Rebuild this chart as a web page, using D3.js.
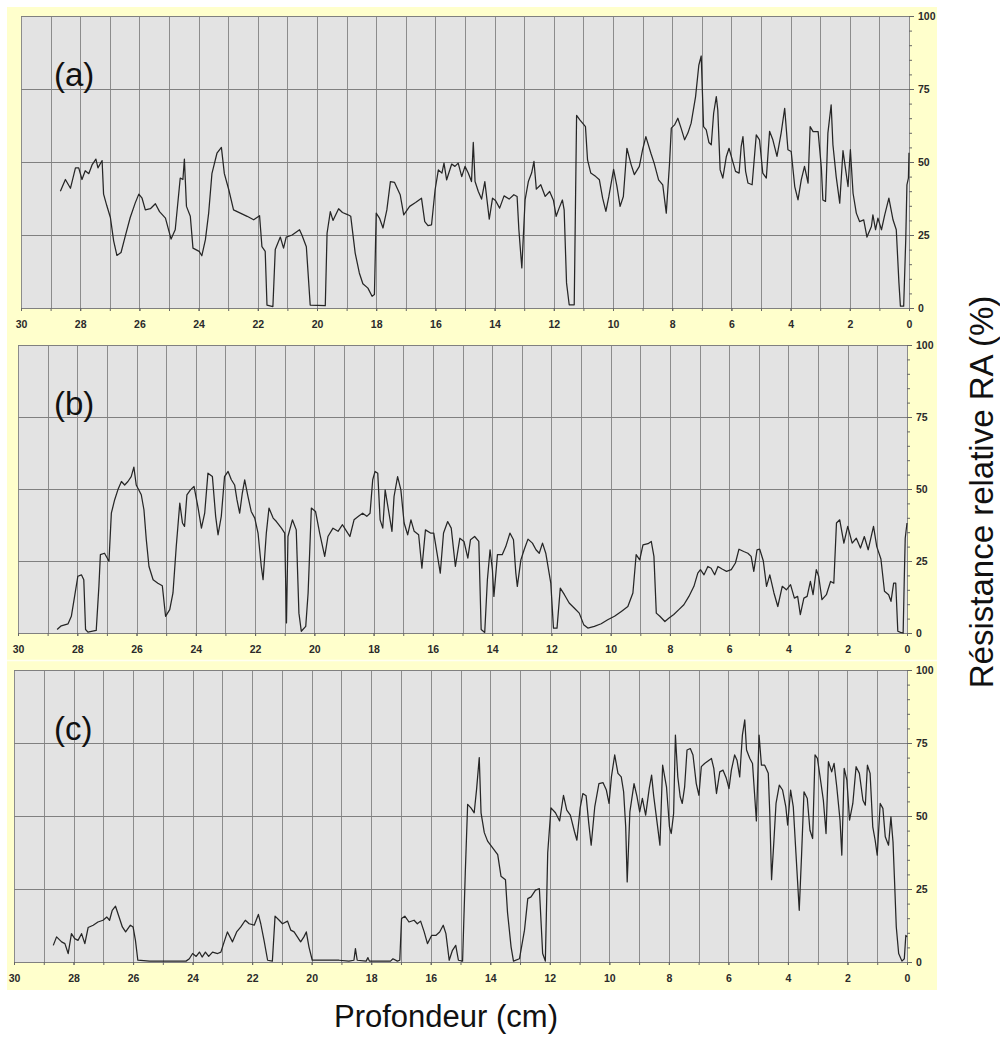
<!DOCTYPE html>
<html>
<head>
<meta charset="utf-8">
<script src="https://cdn.jsdelivr.net/npm/d3@7"></script>
<style>
  body { margin: 0; background: #fff; }
  .tick text { font-family: "Liberation Sans", Arial, sans-serif; font-weight: bold; font-size: 10.5px; fill: #2a2a2a; }
</style>
</head>
<body>
<svg id="viz" width="1000" height="1037"></svg>
<script>
// depth (cm) , relative resistance (%)
const traceA = [
  [28.67,40],[28.5,44],[28.33,41],[28.16,48],[28.05,48],[27.94,44],[27.83,47],[27.71,46],[27.6,49],[27.47,51],[27.4,48],[27.26,50.5],[27.21,39],[27.1,35],[26.98,31],[26.87,23],[26.76,18],[26.62,19],[26.48,24.5],[26.31,31],[26.14,36],[26.02,39],[25.91,37.6],[25.8,33.6],[25.63,34],[25.46,35.7],[25.32,33],[25.12,30.8],[24.93,23.6],[24.79,26.8],[24.62,44.5],[24.53,44],[24.48,51],[24.41,34.8],[24.28,31.4],[24.19,20.5],[23.98,19.4],[23.89,17.9],[23.77,23.4],[23.66,32.5],[23.55,46],[23.38,53],[23.23,55],[23.13,46],[22.98,40.5],[22.82,33.6],[22.59,32.5],[22.36,31.4],[22.14,30.2],[21.94,31.6],[21.86,21],[21.75,19.4],[21.69,1],[21.49,0.5],[21.41,20],[21.24,24.3],[21.13,20.5],[21.04,24.3],[20.84,25],[20.59,26.8],[20.51,25],[20.36,21],[20.23,1],[19.72,0.8],[19.66,25.6],[19.55,33],[19.46,30],[19.27,34],
  [19.14,32.7],[18.97,32],[18.86,31.4],[18.71,18.8],[18.57,12],[18.45,8.3],[18.28,6.8],[18.14,4],[18.06,4.6],[18,32.5],[17.89,30.8],[17.77,27.4],[17.64,33.6],[17.52,43.3],[17.38,43],[17.19,38.8],[17.07,31.9],[16.87,34.8],[16.67,36.1],[16.47,37.6],[16.36,29.6],[16.25,28.2],[16.13,28.5],[16.01,40.5],[15.9,47.3],[15.78,46.2],[15.71,49.6],[15.62,43.9],[15.45,49.3],[15.34,48.5],[15.23,49.6],[15.11,45],[15,48.5],[14.89,46.2],[14.78,43.3],[14.72,56.7],[14.66,43.3],[14.55,39.9],[14.44,37.3],[14.33,43.3],[14.18,30.4],[14.07,37.6],[13.97,36.8],[13.83,34.2],[13.68,38.4],[13.51,37.3],[13.35,38.8],[13.24,38.2],[13.18,26.8],[13.08,13.7],[12.97,37],[12.86,43.3],[12.75,46.2],[12.67,50.2],[12.59,40.7],[12.44,42.2],[12.29,38.2],[12.14,39.9],[12.01,36.8],[11.92,31.4],[11.82,34.2],[11.71,37],[11.65,33.6],[11.57,8.6],[11.48,1.1],[11.31,1.1],[11.23,66],[11.12,64.4],[10.93,62.1],[10.86,50.7],[10.75,46.2],[10.58,45],[10.46,43.9],[10.35,37.6],[10.24,33.1],[10.14,38.2],[9.98,47.5],[9.87,41.8],[9.76,34.8],[9.65,38.2],[9.53,54.7],[9.39,49.2],[9.28,45.7],[9.11,48.5],[9,54.2],[8.89,58.7],[8.72,53],[8.61,49.6],[8.46,43.9],[8.32,42.2],[8.2,32.5],
  [8.09,49.6],[8.03,61.6],[7.92,62.7],[7.81,65],[7.7,61.6],[7.58,57.6],[7.47,59.9],[7.36,63.3],[7.21,72.4],[7.1,83.2],[7.02,86.3],[6.94,62.1],[6.85,61],[6.76,56.7],[6.68,55.9],[6.6,66.7],[6.51,72.4],[6.46,67.8],[6.38,47.3],[6.29,44.5],[6.17,51.9],[6.08,54.7],[5.97,50.7],[5.86,46.8],[5.74,46.2],[5.67,55.3],[5.61,58.7],[5.52,46.8],[5.44,42.8],[5.3,42.2],[5.16,59.3],[5.05,57.6],[4.94,46.2],[4.82,44.5],[4.71,60.5],[4.6,57.6],[4.46,51.9],[4.32,59.9],[4.2,68.4],[4.09,54.2],[3.98,53.6],[3.86,41.6],[3.75,37],[3.64,43.9],[3.53,48.5],[3.41,42.8],[3.34,62.1],[3.24,60.4],[3.07,60.4],[2.96,47.9],[2.91,37],[2.82,36.5],[2.74,59.9],[2.63,69.6],[2.57,55.9],[2.46,45],[2.34,35.9],[2.23,53.9],[2.14,47.3],[2.06,41.6],[1.98,54.2],[1.89,39.3],[1.78,32.5],[1.67,29.6],[1.53,30.2],[1.42,24.3],[1.27,27.9],[1.22,31.9],[1.13,26.8],[1.05,30.8],[0.93,26.8],[0.82,31.9],[0.68,37.6],[0.54,30.2],[0.43,26.8],[0.34,8.6],[0.29,0.6],[0.18,0.6],[0.11,23.4],[0.07,42.2],[0.02,44.5],[0,53.2]
];

const traceB = [
  [28.68,1.2],[28.54,2.5],[28.31,3.2],[28.2,5.8],[28.09,12.7],[27.98,19.7],[27.86,20.2],[27.78,18.5],[27.72,1.2],[27.64,0.3],[27.36,0.9],[27.27,16.2],[27.22,27.2],[27.08,27.7],[26.93,24.9],[26.85,41.6],[26.74,46.2],[26.63,49.7],[26.51,52.6],[26.4,51.4],[26.29,52.6],[26.18,54.3],[26.09,57.6],[26.01,51.4],[25.84,48],[25.75,42.8],[25.67,32.4],[25.58,23.1],[25.44,18.5],[25.28,17.3],[25.13,16.4],[25.02,5.8],[24.88,8.1],[24.77,13.9],[24.66,30],[24.54,45.1],[24.45,38.2],[24.38,37],[24.3,48],[24.18,49.7],[24.06,50.9],[23.93,43.9],[23.81,36.4],[23.7,41.6],[23.59,55.5],[23.44,54.3],[23.33,40.5],[23.25,34.1],[23.14,40.5],[23.03,54.3],[22.91,56.1],[22.8,53.2],[22.69,51.4],[22.61,46.2],[22.52,41.6],[22.43,48.6],[22.35,53.2],[22.24,47.4],[22.13,42.2],[22.01,39.9],[21.9,34.7],[21.79,23.1],[21.73,18.5],[21.62,34.7],[21.53,43.4],[21.39,39.9],[21.28,38.7],[21.11,36.4],[21,34.7],[20.94,3.5],[20.89,33.5],[20.74,39.3],[20.61,35.8],[20.52,6.9],[20.44,0.6],[20.29,2.3],[20.21,13.9],[20.1,43.4],[19.96,42.2],[19.82,34.7],[19.65,26.6],[19.54,33.5],[19.37,36.4],[19.2,35.3],
  [19.05,37.6],[18.91,35.3],[18.8,33.5],[18.66,39.3],[18.51,40.5],[18.37,41.6],[18.23,40.5],[18.12,41.6],[18.03,53.2],[17.95,56.1],[17.86,55.5],[17.78,39.3],[17.69,36.4],[17.61,49.7],[17.5,42.8],[17.38,35.3],[17.31,47.4],[17.19,54.3],[17.08,49.7],[16.97,38.2],[16.85,34.1],[16.74,39.3],[16.63,35.3],[16.48,34.1],[16.37,22.5],[16.25,35.8],[16.08,34.7],[15.97,34.7],[15.86,27.7],[15.75,20.8],[15.64,34.7],[15.5,38.7],[15.38,36.4],[15.24,23.1],[15.09,32.9],[14.95,31.8],[14.82,26],[14.73,32.4],[14.59,33.5],[14.45,31.8],[14.37,1.2],[14.25,0.2],[14.16,18.5],[14.07,28.9],[13.99,21.9],[13.94,12.7],[13.82,27.2],[13.66,27.2],[13.54,30],[13.4,34.7],[13.28,32.4],[13.2,20.8],[13.15,16.2],[13.03,25.4],[12.92,28.9],[12.79,32.6],[12.64,31.2],[12.52,28.9],[12.41,27.7],[12.3,31.2],[12.19,27.7],[12.02,17.3],[11.93,1.7],[11.81,1.7],[11.7,15.6],[11.56,13.3],[11.4,10.4],[11.23,8.7],[11.06,6.9],[10.91,2.9],[10.77,1.7],[10.55,2.3],[10.32,3.2],[10.1,4.6],[9.87,5.8],[9.64,7.5],[9.42,9.2],[9.25,13.9],[9.14,27.2],[9.02,25.4],[8.91,30.6],[8.74,31],[8.63,31.8],[8.54,26.6],[8.46,6.9],[8.34,5.8],[8.17,4],
  [8.03,5.2],[7.87,6.4],[7.7,8.1],[7.53,9.8],[7.36,12.7],[7.19,16.2],[7.06,20.8],[6.97,22],[6.85,20.2],[6.72,23.1],[6.61,22.5],[6.49,20.2],[6.38,23.1],[6.24,22.2],[6.09,21.4],[5.93,22],[5.79,24.3],[5.67,29.1],[5.51,28.3],[5.37,27.7],[5.26,26.6],[5.17,21.4],[5.06,28.9],[4.97,29.1],[4.85,25.1],[4.74,16.2],[4.63,20.2],[4.49,13.9],[4.36,9.2],[4.21,16.2],[4.07,15],[3.93,16.8],[3.8,12.1],[3.69,12.7],[3.6,6.4],[3.48,12.1],[3.37,12.7],[3.26,17.9],[3.17,13.3],[3.06,22],[2.98,19.7],[2.87,11.6],[2.72,13.3],[2.58,17.9],[2.47,17.3],[2.38,38.2],[2.27,39.3],[2.13,31.2],[2,37],[1.85,31.2],[1.71,32.9],[1.57,29.5],[1.44,33.5],[1.31,28.9],[1.13,37],[1.02,30],[0.88,25.7],[0.76,14.5],[0.62,13.3],[0.54,11],[0.45,17.3],[0.38,17.3],[0.31,0.6],[0.22,0.2],[0.13,0],[0.09,19.7],[0.06,32.9],[0,38.2]
];

const traceC = [
  [28.68,5.7],[28.57,8.6],[28.4,6.9],[28.29,6.3],[28.18,2.9],[28.07,9.7],[27.96,8],[27.85,7.4],[27.73,9.7],[27.62,6.3],[27.51,11.8],[27.34,12.6],[27.18,13.7],[27.01,14.3],[26.88,15.4],[26.79,14.3],[26.7,17.7],[26.59,19.1],[26.47,15.4],[26.36,12],[26.25,10.3],[26.09,12.6],[26,12],[25.92,7.4],[25.84,0.6],[25.45,0.3],[24.89,0.3],[24.22,0.3],[24.11,1.1],[24,2.9],[23.88,1.9],[23.77,3.4],[23.68,1.7],[23.57,3.4],[23.46,1.9],[23.33,3.4],[23.16,2.9],[23.05,3.4],[22.94,6.9],[22.83,10.3],[22.66,6.9],[22.52,10.3],[22.38,12],[22.23,14.3],[22.1,13.1],[21.93,12.6],[21.79,16.3],[21.71,13.1],[21.6,7.4],[21.48,0.6],[21.32,0.3],[21.23,15.7],[21.09,14.3],[20.98,13.1],[20.81,14],[20.7,10.9],[20.59,10.3],[20.48,8.6],[20.37,6.9],[20.26,8.6],[20.18,10.3],[20.09,5.1],[19.98,0.6],[19.08,0.6],
  [18.75,0.3],[18.58,0.6],[18.53,4.6],[18.47,0.6],[18.17,0.3],[18.11,1.5],[18.06,0.3],[17.35,0.3],[17.27,1.1],[17.12,0.3],[17.04,0.6],[16.98,14.9],[16.87,15.7],[16.73,13.7],[16.56,14.3],[16.45,13.1],[16.34,14],[16.22,10.3],[16.11,6.3],[15.97,9.1],[15.83,9.1],[15.7,10.3],[15.58,12.6],[15.49,9.7],[15.38,0.6],[15.27,4],[15.16,5.7],[15.07,0.6],[14.93,0.3],[14.84,30.3],[14.76,54],[14.65,52.8],[14.54,51.1],[14.46,59.1],[14.37,70],[14.31,51.1],[14.2,44.3],[14.09,41.4],[13.92,39.1],[13.75,36.8],[13.64,29.4],[13.49,28.2],[13.42,16.9],[13.3,5.1],[13.22,0.3],[13.02,1.1],[12.85,10.9],[12.74,21.7],[12.63,22.3],[12.48,24.6],[12.35,25.1],[12.24,2.9],[12.15,0.3],[12.07,37.4],[11.96,52.8],[11.81,51.1],[11.67,48.3],[11.54,57.1],[11.43,52],[11.31,50.3],[11.17,44.6],[11.09,41.7],[10.98,52.8],[10.89,57.7],[10.78,56.9],[10.69,47.4],[10.61,40],[10.49,53.1],[10.35,61.1],[10.21,61.4],[10.1,58.9],[10.01,54.3],[9.93,63.4],[9.82,70.9],[9.71,64.6],[9.6,63.4],[9.52,58.3],[9.45,46.3],[9.4,27.4],[9.31,51.4],[9.17,61.1],[9.07,56.6],[8.98,51.4],[8.89,56],[8.78,50.3],[8.66,59.4],[8.58,64],[8.51,56.9],[8.42,49.7],[8.3,40],[8.21,67.4],[8.08,60],
  [7.98,46.3],[7.92,44],[7.84,50.9],[7.78,77.7],[7.7,63.4],[7.62,56.6],[7.55,54.3],[7.47,60],[7.39,72.6],[7.28,73.1],[7.19,70.9],[7.08,61.1],[6.99,57.1],[6.91,66.9],[6.8,68],[6.65,69.1],[6.57,69.7],[6.49,66.3],[6.4,57.7],[6.29,65.1],[6.18,65.7],[6.07,62.9],[5.98,59.4],[5.9,65.7],[5.79,70.9],[5.71,69.1],[5.62,63.4],[5.53,77.7],[5.45,82.9],[5.39,72.6],[5.28,69.7],[5.19,68],[5.13,58.9],[5.06,48.3],[4.97,77.7],[4.89,67.4],[4.78,67.4],[4.66,64.6],[4.61,50.9],[4.55,28.2],[4.47,41.7],[4.4,54.3],[4.29,60.6],[4.18,58.9],[4.07,53.1],[4.01,46.9],[3.91,58.9],[3.82,53.1],[3.73,37.1],[3.62,17.7],[3.54,37.1],[3.46,58.3],[3.35,56],[3.26,45.1],[3.17,42.3],[3.09,70.9],[3.01,69.7],[2.92,63.4],[2.81,55.4],[2.72,44],[2.64,68.6],[2.53,65.1],[2.45,68],[2.36,60],[2.25,48.6],[2.19,36.6],[2.11,66.3],[2.02,62.3],[1.93,48.6],[1.82,54.3],[1.71,66.9],[1.6,64.6],[1.48,55.4],[1.4,53.7],[1.33,67.4],[1.24,64.6],[1.15,46.3],[1.07,41.7],[1,36.6],[0.9,54.3],[0.81,52.6],[0.73,42.9],[0.62,40],[0.54,49.7],[0.47,41.1],[0.42,28.2],[0.36,12],[0.28,2.9],[0.17,0.3],[0.09,1.1],[0.04,9.1],[0,8.6]
];

const panelLabels = ["(a)", "(b)", "(c)"];
const depthTicks = [30, 28, 26, 24, 22, 20, 18, 16, 14, 12, 10, 8, 6, 4, 2, 0];
const depthGrid = d3.range(0, 31, 1);
const resTicks = [0, 25, 50, 75, 100];
const resMinor = d3.range(0, 101, 5);
const xTitle = "Profondeur (cm)";
const yTitle = "Résistance relative RA (%)";

window.onload = () => {
  const svg = d3.select("#viz");

  // pale yellow sheet behind the three scans
  svg.append("rect").attr("x", 7).attr("y", 7).attr("width", 930).attr("height", 983).attr("fill", "#ffffcc");
  svg.append("line").attr("x1", 7).attr("x2", 937).attr("y1", 660.5).attr("y2", 660.5)
    .attr("stroke", "#fffff2").attr("stroke-width", 1.5);

  // plot boxes (pixels)
  const panels = [
    { data: traceA, label: panelLabels[0], left: 21, right: 909, top: 16, bottom: 308 },
    { data: traceB, label: panelLabels[1], left: 18, right: 907, top: 345, bottom: 633 },
    { data: traceC, label: panelLabels[2], left: 14, right: 907, top: 670, bottom: 962 }
  ];

  panels.forEach((p) => {
    const x = d3.scaleLinear().domain([30, 0]).range([p.left, p.right]);
    const y = d3.scaleLinear().domain([0, 100]).range([p.bottom, p.top]);
    const g = svg.append("g");

    g.append("rect")
      .attr("x", p.left).attr("y", p.top)
      .attr("width", p.right - p.left).attr("height", p.bottom - p.top)
      .attr("fill", "#e3e3e3");

    // grid
    g.append("g").selectAll("line").data(depthGrid).join("line")
      .attr("x1", (d) => Math.round(x(d)) + 0.5).attr("x2", (d) => Math.round(x(d)) + 0.5)
      .attr("y1", p.top).attr("y2", p.bottom)
      .attr("stroke", "#8c8c8c").attr("stroke-width", 1);
    g.append("g").selectAll("line").data(resTicks).join("line")
      .attr("x1", p.left).attr("x2", p.right)
      .attr("y1", (d) => Math.round(y(d)) + 0.5).attr("y2", (d) => Math.round(y(d)) + 0.5)
      .attr("stroke", "#808080").attr("stroke-width", 1);

    // bottom axis: small ticks every cm, labels every 2 cm
    const xMinor = g.append("g").attr("transform", `translate(0,${p.bottom})`)
      .call(d3.axisBottom(x).tickValues(depthGrid).tickSize(3).tickFormat(""));
    const xAxis = g.append("g").attr("transform", `translate(0,${p.bottom})`)
      .call(d3.axisBottom(x).tickValues(depthTicks).tickSize(3).tickPadding(10).tickFormat(d3.format("d")));

    // right axis
    const yMinor = g.append("g").attr("transform", `translate(${p.right},0)`)
      .call(d3.axisRight(y).tickValues(resMinor).tickSize(3).tickFormat(""));
    const yAxis = g.append("g").attr("transform", `translate(${p.right},0)`)
      .call(d3.axisRight(y).tickValues(resTicks).tickSize(5).tickPadding(4));

    [xMinor, xAxis, yMinor, yAxis].forEach((a) => {
      a.select(".domain").remove();
      a.selectAll(".tick line").attr("stroke", "#666");
    });

    // the resistance trace
    const line = d3.line().x((d) => x(d[0])).y((d) => y(d[1]));
    g.append("path")
      .datum(p.data)
      .attr("d", line)
      .attr("fill", "none")
      .attr("stroke", "#262626")
      .attr("stroke-width", 1.25)
      .attr("stroke-linejoin", "round");

    g.append("text")
      .attr("x", 54).attr("y", p.top + 70)
      .attr("font-family", "Liberation Sans, Arial, sans-serif")
      .attr("font-size", 33)
      .attr("fill", "#111")
      .text(p.label);
  });

  svg.append("text")
    .attr("x", 446).attr("y", 1027)
    .attr("text-anchor", "middle")
    .attr("font-family", "Liberation Sans, Arial, sans-serif")
    .attr("font-size", 31)
    .attr("fill", "#111")
    .text(xTitle);

  svg.append("text")
    .attr("transform", "translate(993,492) rotate(-90)")
    .attr("text-anchor", "middle")
    .attr("font-family", "Liberation Sans, Arial, sans-serif")
    .attr("font-size", 33)
    .attr("fill", "#111")
    .text(yTitle);
};
</script>
</body>
</html>
